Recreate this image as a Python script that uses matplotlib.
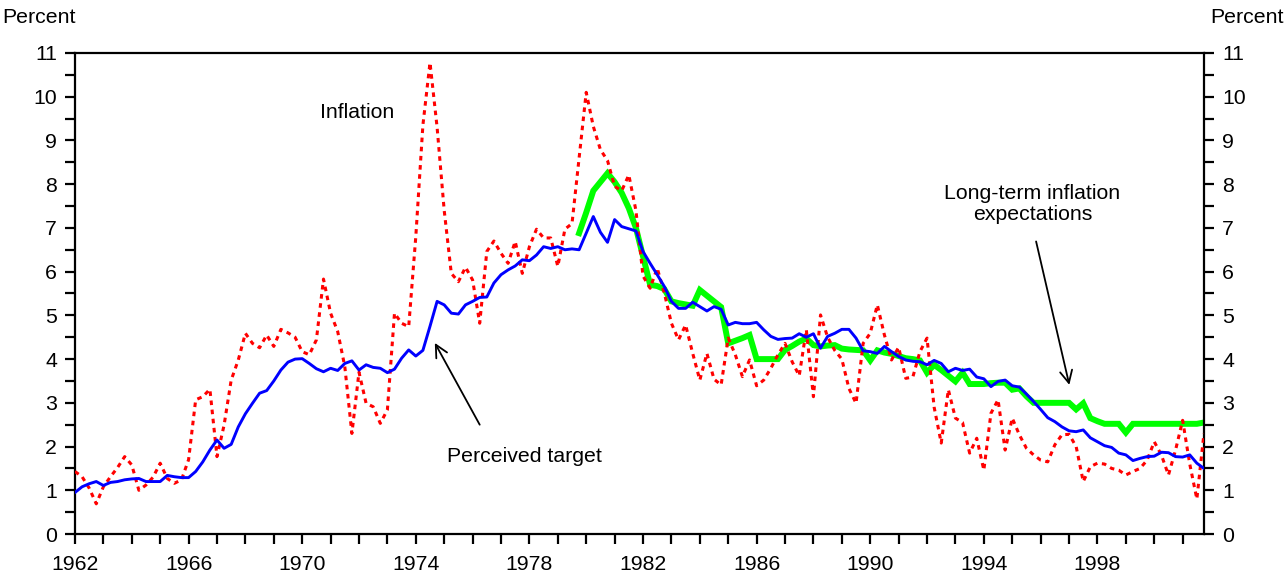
import numpy as np
import matplotlib.pyplot as plt

plt.rcParams['font.family'] = ['Liberation Sans', 'DejaVu Sans']

# quarterly data, first quarter 1962 .. last quarter 2001
start_year = 1962
inflation = [
    1.43, 1.31, 1.05, 0.69,   # 1962
    1.08, 1.31, 1.52, 1.77,   # 1963
    1.58, 1.00, 1.12, 1.30,   # 1964
    1.62, 1.27, 1.16, 1.24,   # 1965
    1.70, 3.07, 3.14, 3.31,   # 1966
    1.77, 2.49, 3.52, 3.98,   # 1967
    4.59, 4.36, 4.26, 4.55,   # 1968
    4.29, 4.68, 4.60, 4.50,   # 1969
    4.17, 4.10, 4.44, 5.83,   # 1970
    5.05, 4.63, 3.83, 2.30,   # 1971
    3.70, 2.99, 2.91, 2.53,   # 1972
    2.84, 5.05, 4.82, 4.74,   # 1973
    6.80, 9.35, 10.78, 9.30,  # 1974
    7.40, 5.96, 5.77, 6.10,   # 1975
    5.81, 4.82, 6.46, 6.70,   # 1976
    6.42, 6.19, 6.69, 5.96,   # 1977
    6.57, 6.97, 6.77, 6.77,   # 1978
    6.12, 6.97, 7.10, 8.60,   # 1979
    10.10, 9.32, 8.79, 8.54,  # 1980
    7.95, 7.85, 8.21, 7.40,   # 1981
    5.90, 5.62, 6.08, 5.51,   # 1982
    4.82, 4.44, 4.78, 4.13,   # 1983
    3.52, 4.13, 3.54, 3.41,   # 1984
    4.48, 4.10, 3.60, 3.98,   # 1985
    3.39, 3.52, 3.79, 4.10,   # 1986
    4.36, 3.94, 3.62, 4.67,   # 1987
    3.14, 5.01, 4.50, 4.20,   # 1988
    4.00, 3.33, 2.99, 4.36,   # 1989
    4.59, 5.24, 4.55, 3.98,   # 1990
    4.27, 3.56, 3.59, 4.17,   # 1991
    4.48, 2.90, 2.08, 3.30,   # 1992
    2.65, 2.55, 1.85, 2.19,   # 1993
    1.46, 2.76, 3.07, 1.92,   # 1994
    2.65, 2.27, 1.96, 1.81,   # 1995
    1.69, 1.65, 2.04, 2.27,   # 1996
    2.28, 2.00, 1.20, 1.54,   # 1997
    1.62, 1.60, 1.50, 1.46,   # 1998
    1.35, 1.43, 1.50, 1.69,   # 1999
    2.11, 1.81, 1.35, 1.92,   # 2000
    2.60, 1.60, 0.80, 2.30,   # 2001
]
perceived_target = [
    0.95, 1.08, 1.15, 1.20,
    1.11, 1.18, 1.20, 1.24,
    1.26, 1.27, 1.20, 1.20,
    1.20, 1.34, 1.31, 1.29,
    1.29, 1.43, 1.65, 1.92,
    2.15, 1.96, 2.05, 2.45,
    2.75, 2.99, 3.22, 3.28,
    3.50, 3.75, 3.93, 4.00,
    4.01, 3.90, 3.78, 3.71,
    3.79, 3.74, 3.90, 3.96,
    3.75, 3.87, 3.81, 3.79,
    3.69, 3.77, 4.02, 4.21,
    4.07, 4.20, 4.75, 5.32,
    5.24, 5.05, 5.03, 5.24,
    5.32, 5.41, 5.42, 5.74,
    5.93, 6.04, 6.13, 6.27,
    6.25, 6.38, 6.57, 6.53,
    6.57, 6.50, 6.52, 6.50,
    6.88, 7.26, 6.90, 6.67,
    7.19, 7.03, 6.98, 6.93,
    6.46, 6.19, 5.93, 5.66,
    5.32, 5.16, 5.16, 5.30,
    5.20, 5.10, 5.20, 5.14,
    4.78, 4.84, 4.81, 4.81,
    4.84, 4.67, 4.52, 4.45,
    4.47, 4.48, 4.58, 4.50,
    4.58, 4.25, 4.52, 4.59,
    4.68, 4.68, 4.48, 4.19,
    4.17, 4.13, 4.29, 4.17,
    4.06, 3.98, 3.95, 3.94,
    3.87, 3.97, 3.90, 3.71,
    3.79, 3.74, 3.77, 3.59,
    3.55, 3.37, 3.49, 3.52,
    3.39, 3.36, 3.20, 3.03,
    2.85, 2.66, 2.57, 2.45,
    2.36, 2.34, 2.38, 2.20,
    2.11, 2.02, 1.98, 1.85,
    1.81, 1.68, 1.73, 1.77,
    1.78, 1.87, 1.86, 1.77,
    1.76, 1.81, 1.62, 1.50,
]
# long-term expectations start in the last quarter of 1979
lt_start = 1979.75
lt_expectations = [
    6.88,                     # 1979Q4
    7.35, 7.85, 8.05, 8.25,   # 1980
    8.05, 7.80, 7.45, 7.00,   # 1981
    6.35, 5.70, 5.67, 5.60,   # 1982
    5.32, 5.28, 5.25, 5.22,   # 1983
    5.58, 5.45, 5.32, 5.19,   # 1984
    4.36, 4.42, 4.48, 4.55,   # 1985
    4.00, 4.00, 4.00, 4.00,   # 1986
    4.21, 4.30, 4.40, 4.47,   # 1987
    4.32, 4.29, 4.31, 4.32,   # 1988
    4.24, 4.22, 4.21, 4.20,   # 1989
    3.97, 4.20, 4.15, 4.12,   # 1990
    4.07, 4.02, 4.00, 3.97,   # 1991
    3.69, 3.87, 3.75, 3.62,   # 1992
    3.49, 3.69, 3.43, 3.43,   # 1993
    3.43, 3.45, 3.46, 3.46,   # 1994
    3.30, 3.33, 3.15, 3.00,   # 1995
    3.00, 3.00, 3.00, 3.00,   # 1996
    3.00, 2.85, 2.99, 2.65,   # 1997
    2.58, 2.52, 2.52, 2.52,   # 1998
    2.32, 2.52, 2.52, 2.52,   # 1999
    2.52, 2.52, 2.52, 2.52,   # 2000
    2.52, 2.52, 2.52, 2.55,   # 2001
]

t = start_year + np.arange(len(inflation)) / 4
t_lt = lt_start + np.arange(len(lt_expectations)) / 4

fig = plt.figure(figsize=(12.86, 5.86), dpi=100)
ax = fig.add_axes([0.0583, 0.0887, 0.8779, 0.8209])

ax.plot(t_lt, lt_expectations, color='#00ff00', lw=4.3, zorder=2, solid_joinstyle='miter')
ax.plot(t, inflation, color='#ff0000', lw=2.2, ls=(0, (1.5, 1.5)), zorder=3)
ax.plot(t, perceived_target, color='#0000ff', lw=2.1, zorder=4)

ax.set_xlim(1962, 2001.75)
ax.set_ylim(0, 11)

xt = np.arange(1962, 2002)
ax.set_xticks(xt)
ax.set_xticklabels([str(y) if (y - 1962) % 4 == 0 else '' for y in xt])
yt = np.arange(0, 11.01, 0.5)
ax.set_yticks(yt)
ax.set_yticklabels([str(int(v)) if v == int(v) else '' for v in yt])

ax.tick_params(axis='both', direction='out', length=7, width=1.6, labelsize=15.3, colors='black')
ax.tick_params(axis='y', right=True, labelright=True, pad=6)
ax.tick_params(axis='x', pad=8)
for s in ax.spines.values():
    s.set_linewidth(1.6)

fig.text(0.002, 0.97, 'Percent', fontsize=15.3, ha='left', va='center')
fig.text(0.998, 0.97, 'Percent', fontsize=15.3, ha='right', va='center')

arrow = dict(arrowstyle='->', color='black', lw=1.3, shrinkA=0, shrinkB=0, mutation_scale=22)

ax.text(1971.92, 9.63, 'Inflation', fontsize=15.3, ha='center', va='center')

ax.text(1977.83, 1.78, 'Perceived target', fontsize=15.3, ha='center', va='center')
ax.annotate('', xy=(1974.67, 4.37), xytext=(1976.25, 2.5), arrowprops=arrow)

ax.text(1995.71, 7.55, 'Long-term inflation\nexpectations', fontsize=15.3,
        ha='center', va='center', linespacing=1.15)
ax.annotate('', xy=(1997.01, 3.41), xytext=(1995.84, 6.69), arrowprops=arrow)

fig.savefig('out.png', dpi=100)
